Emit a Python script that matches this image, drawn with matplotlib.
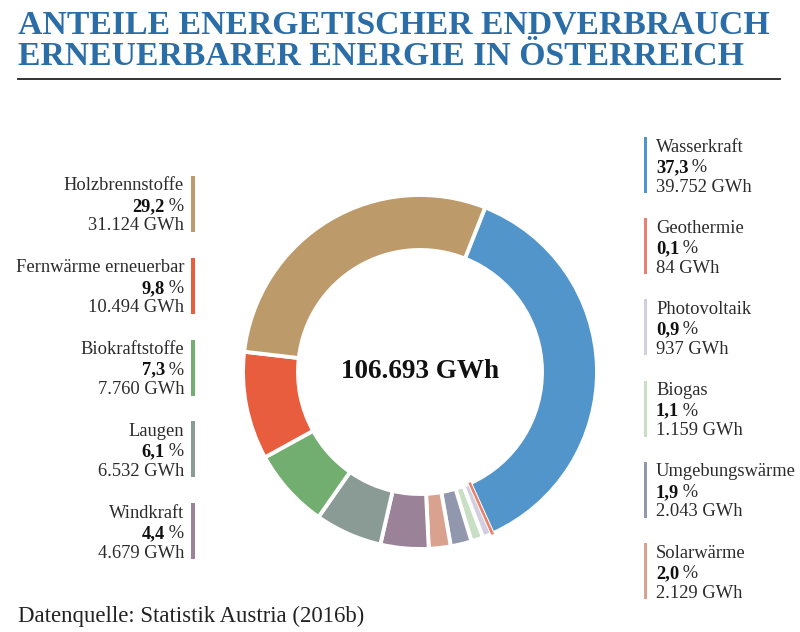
import matplotlib
matplotlib.use("Agg")
import matplotlib.pyplot as plt

# data (Statistik Austria 2016b)
sources = ["Wasserkraft", "Geothermie", "Photovoltaik", "Biogas", "Umgebungswärme",
           "Solarwärme", "Windkraft", "Laugen", "Biokraftstoffe",
           "Fernwärme erneuerbar", "Holzbrennstoffe"]
gwh = [39752, 84, 937, 1159, 2043, 2129, 4679, 6532, 7760, 10494, 31124]
pct_labels = ["37,3", "0,1", "0,9", "1,1", "1,9", "2,0", "4,4", "6,1", "7,3", "9,8", "29,2"]
gwh_labels = ["39.752", "84", "937", "1.159", "2.043", "2.129", "4.679", "6.532",
              "7.760", "10.494", "31.124"]
total_label = "106.693 GWh"
colors = ["#5195cb", "#e8826c", "#d3cfe0", "#c8dfc4", "#9198ae", "#d9a28e",
          "#9a8298", "#8a9a94", "#72ae6f", "#e85d3d", "#bd9a69"]

right_side = sources[:6]
left_side = sources[6:][::-1]  # Holzbrennstoffe at top

W, H = 800, 632
fig = plt.figure(figsize=(W / 100, H / 100), dpi=100)
ax = fig.add_axes([0, 0, 1, 1])
plt.rcParams['font.family'] = ['Liberation Serif', 'DejaVu Serif']


def Y(y):
    # pixel row from top -> data y
    return H - y


wedges, _ = ax.pie(gwh, colors=colors, startangle=68.4, counterclock=False,
                   radius=177, center=(420, Y(372)),
                   wedgeprops=dict(width=55, edgecolor="white", linewidth=2.8))
# keep the tiny Geothermie slice visible
wedges[1].set_edgecolor(colors[1])
wedges[1].set_linewidth(1.3)
wedges[1].set_zorder(3)

ax.set_xlim(0, W)
ax.set_ylim(0, H)
ax.set_aspect("equal")
ax.axis("off")

ax.text(420, Y(372), total_label, ha="center", va="center",
        fontsize=19.5, fontweight="bold", color="#111111")

# title
title_col = "#2a6da7"
ax.text(18, Y(33), "ANTEILE ENERGETISCHER ENDVERBRAUCH", ha="left", va="baseline",
        fontsize=24.3, fontweight="bold", color=title_col)
ax.text(18, Y(65), "ERNEUERBARER ENERGIE IN ÖSTERREICH", ha="left", va="baseline",
        fontsize=24.3, fontweight="bold", color=title_col)
ax.plot([18, 780], [Y(79), Y(79)], color="#222222", lw=1.3)

fs = 13.3
txt_col = "#2b2b2b"
renderer = fig.canvas.get_renderer()


def entry(name, x_bar, top, x_text, ha):
    i = sources.index(name)
    ax.add_patch(plt.Rectangle((x_bar, Y(top + 56)), 3.5, 56, color=colors[i], lw=0))
    ax.text(x_text, Y(top + 14.5), name, ha=ha, va="baseline", fontsize=fs, color=txt_col)
    # bold number, regular percent sign
    if ha == "right":
        t = ax.text(x_text, Y(top + 35), "\u2009%", ha="right", va="baseline",
                    fontsize=fs, color=txt_col)
        w = t.get_window_extent(renderer).width
        ax.text(x_text - w, Y(top + 35), pct_labels[i], ha="right", va="baseline",
                fontsize=fs, fontweight="bold", color="#111111")
    else:
        t = ax.text(x_text, Y(top + 35), pct_labels[i], ha="left", va="baseline",
                    fontsize=fs, fontweight="bold", color="#111111")
        w = t.get_window_extent(renderer).width
        ax.text(x_text + w, Y(top + 35), "\u2009%", ha="left", va="baseline",
                fontsize=fs, color=txt_col)
    ax.text(x_text, Y(top + 54.5), gwh_labels[i] + " GWh", ha=ha, va="baseline",
            fontsize=fs, color=txt_col)


for k, name in enumerate(left_side):
    entry(name, 191, 176 + k * 81.8, 184, "right")

for k, name in enumerate(right_side):
    entry(name, 643.5, 137 + k * 81.2, 656, "left")

ax.text(18, Y(622), "Datenquelle: Statistik Austria (2016b)", ha="left", va="baseline",
        fontsize=16.4, color="#222222")

fig.savefig("out.png", dpi=100, facecolor="white")
